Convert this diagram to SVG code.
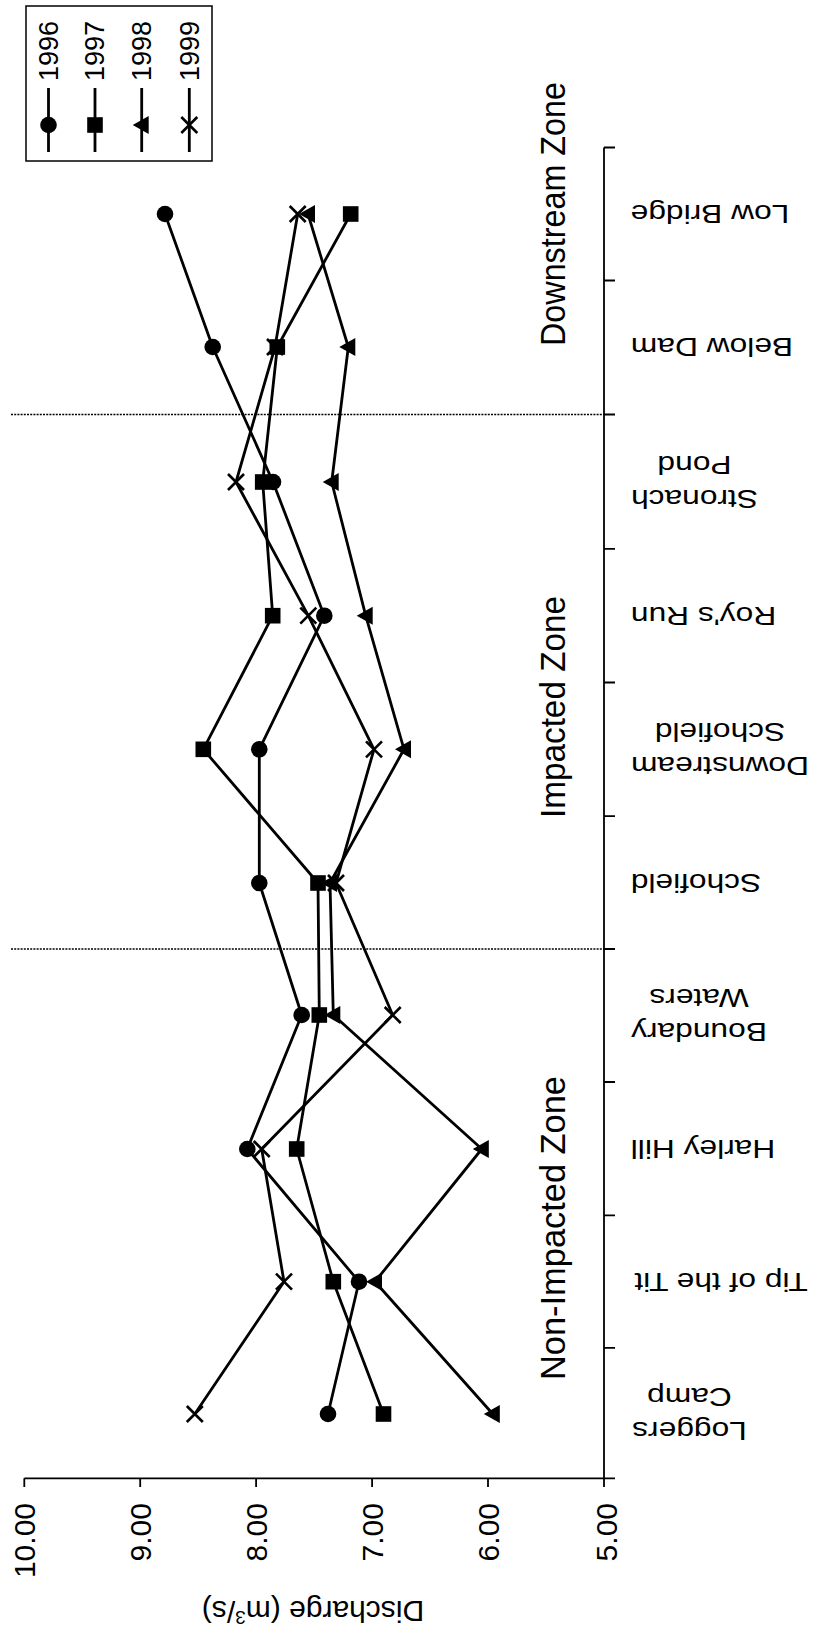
<svg xmlns="http://www.w3.org/2000/svg" xmlns:xlink="http://www.w3.org/1999/xlink" width="818" height="1642" viewBox="0 0 818 1642">
<style>
text{font-family:"Liberation Sans",Arial,sans-serif;fill:#000}
.ax{stroke:#000;stroke-width:1.8;fill:none}
.dot{stroke:#000;stroke-width:1.6;stroke-dasharray:2 1.2;fill:none}
.ser{stroke:#000;stroke-width:2.8;fill:none;stroke-linejoin:round}
.val{font-size:30px}
.cat{font-size:26px}
.zone{font-size:35px}
.leg{font-size:27px}
</style>
<defs>
<g id="mc"><circle r="8.3" fill="#000"/></g>
<g id="ms"><rect x="-7.8" y="-7.8" width="15.6" height="15.6" fill="#000"/></g>
<g id="mt"><polygon points="-9,0 7,-9 7,9" fill="#000"/></g>
<g id="mx"><path d="M-8,-8 L8,8 M-8,8 L8,-8" stroke="#000" stroke-width="2.6" fill="none"/></g>
</defs>
<rect width="818" height="1642" fill="#fff"/>

<g id="axes">
<path class="ax" d="M604,147.5 V1487 M604,147.5 H615 M604,280.5 H615 M604,414.5 H615 M604,548.9 H615 M604,682.5 H615 M604,816.2 H615 M604,949 H615 M604,1082 H615 M604,1215.4 H615 M604,1347.9 H615"/>
<path class="ax" d="M24.3,1478.3 H615 M24.3,1478.3 V1487 M140.2,1478.3 V1487 M256.1,1478.3 V1487 M372.1,1478.3 V1487 M488,1478.3 V1487"/>
<path class="dot" d="M11,414.5 H604 M11,949 H604"/>
</g>

<g id="value-labels">
<text class="val" x="24.3" y="1503" text-anchor="end" dy="0.35em" transform="rotate(-90 24.3 1503)">10.00</text>
<text class="val" x="140.2" y="1503" text-anchor="end" dy="0.35em" transform="rotate(-90 140.2 1503)">9.00</text>
<text class="val" x="256.1" y="1503" text-anchor="end" dy="0.35em" transform="rotate(-90 256.1 1503)">8.00</text>
<text class="val" x="372.1" y="1503" text-anchor="end" dy="0.35em" transform="rotate(-90 372.1 1503)">7.00</text>
<text class="val" x="488" y="1503" text-anchor="end" dy="0.35em" transform="rotate(-90 488 1503)">6.00</text>
<text class="val" x="606" y="1503" text-anchor="end" dy="0.35em" transform="rotate(-90 606 1503)">5.00</text>
</g>

<g id="axis-title">
<text x="0" y="0" font-size="30" text-anchor="middle" dy="0.35em" transform="translate(313 1611.5) rotate(180)">Discharge (m<tspan font-size="19" baseline-shift="super">3</tspan>/s)</text>
</g>

<g id="zone-labels">
<text class="zone" x="552" y="214" text-anchor="middle" dy="0.36em" textLength="264" lengthAdjust="spacingAndGlyphs" transform="rotate(-90 552 214)">Downstream Zone</text>
<text class="zone" x="552" y="707" text-anchor="middle" dy="0.36em" textLength="222" lengthAdjust="spacingAndGlyphs" transform="rotate(-90 552 707)">Impacted Zone</text>
<text class="zone" x="552" y="1228" text-anchor="middle" dy="0.36em" textLength="304" lengthAdjust="spacingAndGlyphs" transform="rotate(-90 552 1228)">Non-Impacted Zone</text>
</g>

<g id="category-labels">
<text class="cat" text-anchor="middle" dy="0.35em" transform="translate(710 214) rotate(180) scale(1.22 1)">Low Bridge</text>
<text class="cat" text-anchor="middle" dy="0.35em" transform="translate(712 347) rotate(180) scale(1.22 1)">Below Dam</text>
<text class="cat" text-anchor="middle" dy="0.35em" transform="translate(694.5 499) rotate(180) scale(1.22 1)">Stronach</text>
<text class="cat" text-anchor="middle" dy="0.35em" transform="translate(694.5 465) rotate(180) scale(1.22 1)">Pond</text>
<text class="cat" text-anchor="middle" dy="0.35em" transform="translate(703.5 615.7) rotate(180) scale(1.22 1)">Roy's Run</text>
<text class="cat" text-anchor="middle" dy="0.35em" transform="translate(720 766.3) rotate(180) scale(1.22 1)">Downstream</text>
<text class="cat" text-anchor="middle" dy="0.35em" transform="translate(720 732.3) rotate(180) scale(1.22 1)">Schofield</text>
<text class="cat" text-anchor="middle" dy="0.35em" transform="translate(696 883) rotate(180) scale(1.22 1)">Schofield</text>
<text class="cat" text-anchor="middle" dy="0.35em" transform="translate(699 1032) rotate(180) scale(1.22 1)">Boundary</text>
<text class="cat" text-anchor="middle" dy="0.35em" transform="translate(699 998) rotate(180) scale(1.22 1)">Waters</text>
<text class="cat" text-anchor="middle" dy="0.35em" transform="translate(703 1149) rotate(180) scale(1.22 1)">Harley Hill</text>
<text class="cat" text-anchor="middle" dy="0.35em" transform="translate(721 1281.7) rotate(180) scale(1.22 1)">Tip of the Tit</text>
<text class="cat" text-anchor="middle" dy="0.35em" transform="translate(689.5 1431) rotate(180) scale(1.22 1)">Loggers</text>
<text class="cat" text-anchor="middle" dy="0.35em" transform="translate(689.5 1397) rotate(180) scale(1.22 1)">Camp</text>
</g>

<g id="connectors">
<polyline class="ser" points="165,214 212.7,347 273,482 324.3,615.7 259.3,749.3 259.3,883 301.7,1015 247.3,1149 359,1281.7 328,1414"/>
<polyline class="ser" points="350.7,214 277.3,347 262.7,482 272.7,615.7 203.3,749.3 318,883 319.3,1015 296.7,1149 333.3,1281.7 383.5,1414"/>
<polyline class="ser" points="308,214 348.3,347 331.7,482 365.7,615.7 404,749.3 330,883 333.3,1015 481.8,1149 375,1281.7 492.8,1414"/>
<polyline class="ser" points="297.7,214 275,347 236,482 308.3,615.7 374,749.3 336,883 392.7,1015 261.7,1149 284,1281.7 194.8,1414"/>
</g>

<g id="series-1996">
<use href="#mc" x="165" y="214"/><use href="#mc" x="212.7" y="347"/><use href="#mc" x="273" y="482"/><use href="#mc" x="324.3" y="615.7"/><use href="#mc" x="259.3" y="749.3"/><use href="#mc" x="259.3" y="883"/><use href="#mc" x="301.7" y="1015"/><use href="#mc" x="247.3" y="1149"/><use href="#mc" x="359" y="1281.7"/><use href="#mc" x="328" y="1414"/>
</g>
<g id="series-1997">
<use href="#ms" x="350.7" y="214"/><use href="#ms" x="277.3" y="347"/><use href="#ms" x="262.7" y="482"/><use href="#ms" x="272.7" y="615.7"/><use href="#ms" x="203.3" y="749.3"/><use href="#ms" x="318" y="883"/><use href="#ms" x="319.3" y="1015"/><use href="#ms" x="296.7" y="1149"/><use href="#ms" x="333.3" y="1281.7"/><use href="#ms" x="383.5" y="1414"/>
</g>
<g id="series-1998">
<use href="#mt" x="308" y="214"/><use href="#mt" x="348.3" y="347"/><use href="#mt" x="331.7" y="482"/><use href="#mt" x="365.7" y="615.7"/><use href="#mt" x="404" y="749.3"/><use href="#mt" x="330" y="883"/><use href="#mt" x="333.3" y="1015"/><use href="#mt" x="481.8" y="1149"/><use href="#mt" x="375" y="1281.7"/><use href="#mt" x="492.8" y="1414"/>
</g>
<g id="series-1999">
<use href="#mx" x="297.7" y="214"/><use href="#mx" x="275" y="347"/><use href="#mx" x="236" y="482"/><use href="#mx" x="308.3" y="615.7"/><use href="#mx" x="374" y="749.3"/><use href="#mx" x="336" y="883"/><use href="#mx" x="392.7" y="1015"/><use href="#mx" x="261.7" y="1149"/><use href="#mx" x="284" y="1281.7"/><use href="#mx" x="194.8" y="1414"/>
</g>

<g id="legend">
<rect x="26" y="6" width="186" height="155" fill="#fff" stroke="#000" stroke-width="1.5"/>
<text class="leg" x="48.5" y="21" text-anchor="end" dy="0.35em" transform="rotate(-90 48.5 21)">1996</text>
<text class="leg" x="95" y="21" text-anchor="end" dy="0.35em" transform="rotate(-90 95 21)">1997</text>
<text class="leg" x="141.7" y="21" text-anchor="end" dy="0.35em" transform="rotate(-90 141.7 21)">1998</text>
<text class="leg" x="189.3" y="21" text-anchor="end" dy="0.35em" transform="rotate(-90 189.3 21)">1999</text>
<path class="ser" d="M48.5,88 V152 M95,88 V152 M141.7,88 V152 M189.3,88 V152"/>
<use href="#mc" x="48.5" y="125"/><use href="#ms" x="95" y="125"/><use href="#mt" x="141.7" y="125"/><use href="#mx" x="189.3" y="125"/>
</g>
</svg>
